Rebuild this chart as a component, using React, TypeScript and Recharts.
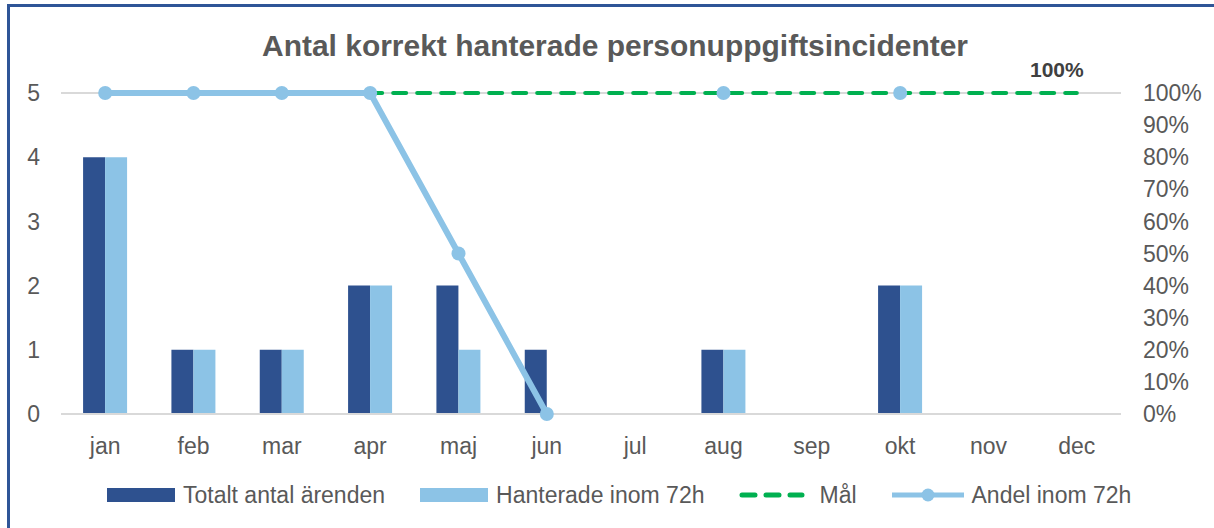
import React from "react";
import { ComposedChart, Bar, Line, XAxis, YAxis, CartesianGrid, LabelList } from "recharts";

const months = ["jan", "feb", "mar", "apr", "maj", "jun", "jul", "aug", "sep", "okt", "nov", "dec"];
const totalt = [4, 1, 1, 2, 2, 1, 0, 1, 0, 2, 0, 0];
const hanterade = [4, 1, 1, 2, 1, 0, 0, 1, 0, 2, 0, 0];
const mal = [1, 1, 1, 1, 1, 1, 1, 1, 1, 1, 1, 1];
const andel = [1, 1, 1, 1, 0.5, 0, null, 1, null, 1, null, null];
const leftTicks = [0, 1, 2, 3, 4, 5];
const rightTicks = [0, 0.1, 0.2, 0.3, 0.4, 0.5, 0.6, 0.7, 0.8, 0.9, 1];

const TITLE = "Antal korrekt hanterade personuppgiftsincidenter";
const DARK = "#2E518F";
const LIGHT = "#8CC3E6";
const GREEN = "#00B050";
const TEXT = "#595959";
const FONT = "'Liberation Sans', Arial, sans-serif";
const FS = 23;

const data = months.map((m, i) => ({
  month: m,
  totalt: totalt[i],
  hanterade: hanterade[i],
  mal: mal[i],
  andel: andel[i],
}));

const legendItems = [
  { name: "Totalt antal ärenden", kind: "rect", color: DARK },
  { name: "Hanterade inom 72h", kind: "rect", color: LIGHT },
  { name: "Mål", kind: "dash", color: GREEN },
  { name: "Andel inom 72h", kind: "line", color: LIGHT },
];

const Symbol = ({ kind, color }: { kind: string; color: string }) => {
  if (kind === "rect") {
    return (
      <svg width={68} height={16} style={{ display: "block" }}>
        <rect x={0} y={1} width={68} height={14} fill={color} />
      </svg>
    );
  }
  if (kind === "dash") {
    return (
      <svg width={66} height={16} style={{ display: "block" }}>
        <line x1={3} y1={8} x2={63} y2={8} stroke={color} strokeWidth={5} strokeDasharray="13 11" strokeLinecap="round" />
      </svg>
    );
  }
  return (
    <svg width={72} height={16} style={{ display: "block" }}>
      <line x1={0} y1={8} x2={72} y2={8} stroke={color} strokeWidth={5} />
      <circle cx={36} cy={8} r={6.5} fill={color} />
    </svg>
  );
};

const MalLabel = (props: any) => {
  const { x, y, index, value } = props;
  if (index !== months.length - 1) return null;
  return (
    <text x={x - 20} y={y - 16} textAnchor="middle" fill="#404040" fontWeight="bold" fontSize={21} fontFamily={FONT}>
      {`${Math.round(value * 100)}%`}
    </text>
  );
};

export default function App() {
  return (
    <div style={{ position: "absolute", left: 0, top: 0, width: 1214, height: 528, background: "#fff", fontFamily: FONT, overflow: "hidden" }}>
      <div style={{ position: "absolute", left: 7, top: 4, right: -10, bottom: -10, borderLeft: "3px solid #2F5597", borderTop: "3px solid #2F5597" }} />
      <svg width={1214} height={80} style={{ position: "absolute", left: 0, top: 0 }}>
        <text x={262} y={56} fontSize={29} fontWeight="bold" fill={TEXT} fontFamily={FONT} textLength={706} lengthAdjust="spacingAndGlyphs">
          {TITLE}
        </text>
      </svg>
      <div style={{ position: "absolute", left: 0, top: 0 }}>
        <ComposedChart width={1214} height={528} data={data} margin={{ top: 93, right: 0, left: 0, bottom: 74 }} barGap={0} barCategoryGap="25%">
          <CartesianGrid vertical={false} stroke="#D9D9D9" strokeWidth={2} />
          <XAxis
            dataKey="month"
            axisLine={{ stroke: "#D9D9D9", strokeWidth: 2 }}
            tickLine={false}
            tickSize={0}
            tickMargin={24}
            height={40}
            interval={0}
            tick={{ fill: TEXT, fontSize: FS, fontFamily: FONT }}
          />
          <YAxis
            yAxisId="left"
            orientation="left"
            domain={[0, 5]}
            ticks={leftTicks}
            interval={0}
            width={61}
            axisLine={false}
            tickLine={false}
            tickSize={0}
            tickMargin={21}
            tick={{ fill: TEXT, fontSize: FS, fontFamily: FONT }}
          />
          <YAxis
            yAxisId="right"
            orientation="right"
            domain={[0, 1]}
            ticks={rightTicks}
            interval={0}
            width={93}
            axisLine={false}
            tickLine={false}
            tickSize={0}
            tickMargin={22}
            tickFormatter={(v: number) => `${Math.round(v * 100)}%`}
            tick={{ fill: TEXT, fontSize: FS, fontFamily: FONT, textAnchor: "start" }}
          />
          <Bar yAxisId="left" dataKey="totalt" fill={DARK} isAnimationActive={false} />
          <Bar yAxisId="left" dataKey="hanterade" fill={LIGHT} isAnimationActive={false} />
          <Line
            yAxisId="right"
            dataKey="mal"
            stroke={GREEN}
            strokeWidth={4}
            strokeDasharray="13 11"
            strokeLinecap="round"
            dot={false}
            activeDot={false}
            isAnimationActive={false}
          >
            <LabelList dataKey="mal" content={<MalLabel />} />
          </Line>
          <Line
            yAxisId="right"
            dataKey="andel"
            stroke={LIGHT}
            strokeWidth={6}
            dot={{ r: 7, fill: LIGHT, stroke: LIGHT, strokeWidth: 0 }}
            activeDot={false}
            connectNulls={false}
            isAnimationActive={false}
          />
        </ComposedChart>
      </div>
      <div style={{ position: "absolute", left: 107, top: 480, height: 30, display: "flex", alignItems: "center", color: TEXT, fontSize: FS }}>
        {legendItems.map((it, i) => (
          <div key={it.name} style={{ display: "flex", alignItems: "center", marginRight: i === legendItems.length - 1 ? 0 : 35 }}>
            <Symbol kind={it.kind} color={it.color} />
            <span style={{ marginLeft: it.kind === "dash" ? 14 : 8, whiteSpace: "nowrap", lineHeight: "30px" }}>{it.name}</span>
          </div>
        ))}
      </div>
    </div>
  );
}
